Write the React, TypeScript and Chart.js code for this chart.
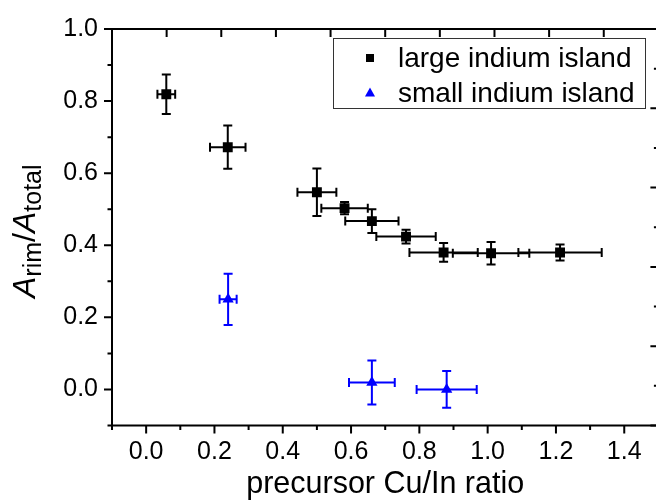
import React, { useEffect, useRef } from 'react';
import { Chart, registerables } from 'chart.js';

Chart.register(...registerables);

// ---- data ----
const largeX = [0.059, 0.239, 0.5, 0.581, 0.661, 0.761, 0.871, 1.01, 1.212];
const largeY = [0.819, 0.672, 0.547, 0.503, 0.467, 0.424, 0.38, 0.378, 0.38];
const largeXErr = [0.026, 0.052, 0.057, 0.068, 0.078, 0.087, 0.1, 0.112, 0.122];
const largeYErr = [0.055, 0.06, 0.066, 0.017, 0.033, 0.019, 0.026, 0.031, 0.022];

const smallX = [0.24, 0.661, 0.88];
const smallY = [0.25, 0.019, 0.0];
const smallXErr = [0.025, 0.067, 0.088];
const smallYErr = [0.071, 0.061, 0.051];

const xTickLabels = [0.0, 0.2, 0.4, 0.6, 0.8, 1.0, 1.2, 1.4];
const xMinorTicks = [-0.1, 0.1, 0.3, 0.5, 0.7, 0.9, 1.1, 1.3, 1.5];
const yTickLabels = [0.0, 0.2, 0.4, 0.6, 0.8, 1.0];
const yMinorTicks = [-0.1, 0.1, 0.3, 0.5, 0.7, 0.9];
const topTicks = [0, 1, 2, 3, 4, 5, 6, 7, 8];
const rightMajorTicks = [0, 1, 2, 3, 4, 5];
const rightMinorTicks = [0.5, 1.5, 2.5, 3.5, 4.5];

const FONT = "'Liberation Sans', Arial, Helvetica, sans-serif";

const largeLabel = 'large indium island';
const smallLabel = 'small indium island';

function toPoints(xs: number[], ys: number[], xe: number[], ye: number[]) {
  return xs.map((x, i) => ({ x, y: ys[i], xErr: xe[i], yErr: ye[i] }));
}

const drawPlugin = {
  id: 'customDraw',
  beforeDatasetsDraw(chart: any) {
    const ctx = chart.ctx;
    const xs = chart.scales.x;
    const ys = chart.scales.y;
    const cap = 4.5;
    chart.data.datasets.forEach((ds: any) => {
      ctx.save();
      ctx.strokeStyle = ds.borderColor;
      ctx.lineWidth = 2;
      ds.data.forEach((p: any) => {
        const cx = xs.getPixelForValue(p.x);
        const cy = ys.getPixelForValue(p.y);
        const x1 = xs.getPixelForValue(p.x - p.xErr);
        const x2 = xs.getPixelForValue(p.x + p.xErr);
        const y1 = ys.getPixelForValue(p.y - p.yErr);
        const y2 = ys.getPixelForValue(p.y + p.yErr);
        ctx.beginPath();
        ctx.moveTo(x1, cy); ctx.lineTo(x2, cy);
        ctx.moveTo(x1, cy - cap); ctx.lineTo(x1, cy + cap);
        ctx.moveTo(x2, cy - cap); ctx.lineTo(x2, cy + cap);
        ctx.moveTo(cx, y1); ctx.lineTo(cx, y2);
        ctx.moveTo(cx - cap, y1); ctx.lineTo(cx + cap, y1);
        ctx.moveTo(cx - cap, y2); ctx.lineTo(cx + cap, y2);
        ctx.stroke();
      });
      ctx.restore();
    });
  },
  afterDraw(chart: any) {
    const ctx = chart.ctx;
    const { left, right, top, bottom } = chart.chartArea;
    const xs = chart.scales.x;
    const ys = chart.scales.y;
    const x2s = chart.scales.x2;
    const y2s = chart.scales.y2;
    ctx.save();
    ctx.strokeStyle = '#000';
    ctx.lineWidth = 2;
    ctx.strokeRect(left, top, right - left, bottom - top);
    ctx.beginPath();
    // bottom ticks (outward)
    xTickLabels.forEach((v) => { const p = xs.getPixelForValue(v); ctx.moveTo(p, bottom); ctx.lineTo(p, bottom + 8); });
    xMinorTicks.forEach((v) => { const p = xs.getPixelForValue(v); ctx.moveTo(p, bottom); ctx.lineTo(p, bottom + 4.5); });
    // left ticks (outward)
    yTickLabels.forEach((v) => { const p = ys.getPixelForValue(v); ctx.moveTo(left, p); ctx.lineTo(left - 8, p); });
    yMinorTicks.forEach((v) => { const p = ys.getPixelForValue(v); ctx.moveTo(left, p); ctx.lineTo(left - 4.5, p); });
    // top ticks (inward)
    topTicks.forEach((v) => { const p = x2s.getPixelForValue(v); ctx.moveTo(p, top); ctx.lineTo(p, top + 8); });
    // right ticks (inward)
    rightMajorTicks.forEach((v) => { const p = y2s.getPixelForValue(v); ctx.moveTo(right, p); ctx.lineTo(right - 8, p); });
    rightMinorTicks.forEach((v) => { const p = y2s.getPixelForValue(v); ctx.moveTo(right, p); ctx.lineTo(right - 4.5, p); });
    ctx.stroke();
    ctx.restore();

    // legend
    ctx.save();
    ctx.strokeStyle = '#333';
    ctx.lineWidth = 1;
    ctx.strokeRect(333.5, 38.5, 312, 70);
    const rows = [58, 93];
    chart.data.datasets.forEach((ds: any, i: number) => {
      const ry = rows[i];
      ctx.fillStyle = ds.backgroundColor;
      ctx.beginPath();
      if (ds.pointStyle === 'rect') {
        ctx.rect(370 - 4, ry - 4, 8, 8);
      } else {
        ctx.moveTo(370, ry - 5.5);
        ctx.lineTo(375, ry + 3.5);
        ctx.lineTo(365, ry + 3.5);
        ctx.closePath();
      }
      ctx.fill();
      ctx.fillStyle = '#000';
      ctx.font = `28px ${FONT}`;
      ctx.textBaseline = 'middle';
      ctx.textAlign = 'left';
      ctx.fillText(ds.label, 398, ry + 1);
    });
    ctx.restore();

    // y axis title with subscripts
    ctx.save();
    ctx.translate(35, 298);
    ctx.rotate(-Math.PI / 2);
    ctx.fillStyle = '#000';
    ctx.textBaseline = 'alphabetic';
    ctx.textAlign = 'left';
    let cx = 0;
    const parts: [string, string, number][] = [
      ['A', 'italic 32px', 0],
      ['rim', '25px', 6],
      ['/', '32px', 0],
      ['A', 'italic 32px', 0],
      ['total', '25px', 6],
    ];
    parts.forEach(([t, f, dy]) => {
      ctx.font = `${f} ${FONT}`;
      ctx.fillText(t, cx, dy);
      cx += ctx.measureText(t).width;
    });
    ctx.restore();
  },
};

export default function App() {
  const ref = useRef<HTMLCanvasElement | null>(null);
  useEffect(() => {
    if (!ref.current) return;
    const chart = new Chart(ref.current, {
      type: 'scatter',
      data: {
        datasets: [
          {
            label: largeLabel,
            data: toPoints(largeX, largeY, largeXErr, largeYErr) as any,
            backgroundColor: '#000000',
            borderColor: '#000000',
            pointStyle: 'rect',
            pointRadius: 7,
            pointBorderWidth: 0,
            showLine: false,
          } as any,
          {
            label: smallLabel,
            data: toPoints(smallX, smallY, smallXErr, smallYErr) as any,
            backgroundColor: '#0000ff',
            borderColor: '#0000ff',
            pointStyle: 'triangle',
            pointRadius: 6.5,
            pointBorderWidth: 0,
            showLine: false,
          } as any,
        ],
      },
      options: {
        animation: false,
        responsive: false,
        layout: { padding: 0 },
        plugins: { legend: { display: false }, tooltip: { enabled: false } },
        scales: {
          x: {
            type: 'linear',
            position: 'bottom',
            min: -0.1,
            max: 1.5,
            afterBuildTicks: (s: any) => { s.ticks = xTickLabels.map((v) => ({ value: v })); },
            afterFit: (s: any) => { s.height = 77.5; },
            grid: { display: false, drawTicks: false },
            border: { display: false },
            ticks: {
              color: '#000',
              font: { family: FONT, size: 25 },
              padding: 12,
              maxRotation: 0,
              autoSkip: false,
              callback: (v: any) => Number(v).toFixed(1),
            },
            title: {
              display: true,
              text: 'precursor Cu/In ratio',
              color: '#000',
              font: { family: FONT, size: 30.5, lineHeight: 1.2 },
              padding: { top: 0, bottom: 0 },
            },
          },
          x2: {
            type: 'linear',
            position: 'top',
            min: -1,
            max: 9,
            afterFit: (s: any) => { s.height = 23.5; },
            grid: { display: false, drawTicks: false },
            border: { display: false },
            ticks: { display: false },
          },
          y: {
            type: 'linear',
            position: 'left',
            min: -0.1,
            max: 1.0,
            afterBuildTicks: (s: any) => { s.ticks = yTickLabels.map((v) => ({ value: v })); },
            afterFit: (s: any) => { s.width = 112; },
            grid: { display: false, drawTicks: false },
            border: { display: false },
            ticks: {
              color: '#000',
              font: { family: FONT, size: 25 },
              padding: 14,
              autoSkip: false,
              callback: (v: any) => Number(v).toFixed(1),
            },
          },
          y2: {
            type: 'linear',
            position: 'right',
            min: 0,
            max: 5,
            afterFit: (s: any) => { s.width = 41.6; },
            grid: { display: false, drawTicks: false },
            border: { display: false },
            ticks: { display: false },
          },
        },
      } as any,
      plugins: [drawPlugin],
    });
    return () => chart.destroy();
  }, []);

  return (
    <div style={{ position: 'absolute', left: 0, top: 0, width: 656, height: 503, overflow: 'hidden', background: '#fff' }}>
      <canvas ref={ref} width={700} height={503} style={{ width: 700, height: 503, display: 'block' }} />
    </div>
  );
}
